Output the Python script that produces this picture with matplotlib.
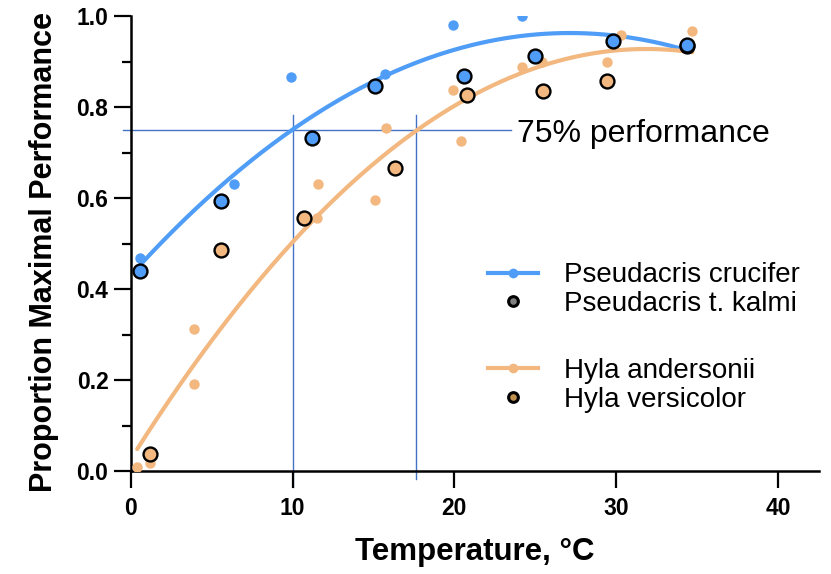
import matplotlib.pyplot as plt
import numpy as np
from matplotlib.lines import Line2D

plt.rcParams['font.family'] = ['Liberation Sans', 'DejaVu Sans']

# Pseudacris crucifer: small dots
crucifer_temp = [0.6, 6.4, 9.9, 15.7, 19.9, 24.2, 29.9, 34.5]
crucifer_perf = [0.469, 0.632, 0.866, 0.873, 0.982, 1.0, 0.945, 0.935]
# Pseudacris t. kalmi: outlined dots
kalmi_temp = [0.6, 5.6, 11.2, 15.1, 20.6, 25.0, 29.8, 34.4]
kalmi_perf = [0.440, 0.595, 0.733, 0.848, 0.870, 0.914, 0.947, 0.938]
# Hyla andersonii: small dots
andersonii_temp = [0.4, 1.2, 3.9, 3.9, 11.5, 11.6, 15.1, 15.8,
                   19.9, 20.4, 24.2, 25.4, 29.4, 30.3, 34.5, 34.7]
andersonii_perf = [0.009, 0.018, 0.313, 0.192, 0.557, 0.632, 0.596, 0.754,
                   0.838, 0.725, 0.888, 0.900, 0.900, 0.960, 0.935, 0.969]
# Hyla versicolor: outlined dots
versicolor_temp = [1.2, 5.6, 10.7, 16.3, 20.8, 25.5, 29.4, 34.4]
versicolor_perf = [0.037, 0.487, 0.557, 0.667, 0.828, 0.835, 0.859, 0.935]

threshold = 0.75
threshold_temps = [10.0, 17.6]

blue = '#4F9DF6'
orange = '#F2B880'
ref_blue = '#4472C4'

fig = plt.figure(figsize=(8.31, 5.74), dpi=100)
ax = fig.add_axes([0.1573, 0.1794, 0.985 - 0.1573, 0.9713 - 0.1794])


def quad_fit(x, y):
    # second order polynomial through both species of a genus
    coef = np.polyfit(x, y, 2)
    xs = np.linspace(min(x), max(x), 200)
    return xs, np.polyval(coef, xs)


xs, ys = quad_fit(crucifer_temp + kalmi_temp, crucifer_perf + kalmi_perf)
ax.plot(xs, ys, color=blue, lw=3, zorder=2, solid_capstyle='round')
xs, ys = quad_fit(andersonii_temp + versicolor_temp, andersonii_perf + versicolor_perf)
ax.plot(xs, ys, color=orange, lw=3, zorder=2, solid_capstyle='round')

ax.plot(andersonii_temp, andersonii_perf, 'o', color=orange, ms=7.5, mew=0, zorder=3)
ax.plot(crucifer_temp, crucifer_perf, 'o', color=blue, ms=7.5, mew=0, zorder=3)
ax.plot(versicolor_temp, versicolor_perf, 'o', mfc=orange, mec='black', ms=10, mew=1.7, zorder=4)
ax.plot(kalmi_temp, kalmi_perf, 'o', mfc=blue, mec='black', ms=10, mew=1.7, zorder=5)

# 75% reference lines
ax.plot([-0.5, 23.5], [threshold, threshold], color=ref_blue, lw=1, clip_on=False, zorder=1)
ax.plot([threshold_temps[0]] * 2, [-0.035, 0.784], color=ref_blue, lw=1, clip_on=False, zorder=1)
ax.plot([threshold_temps[1]] * 2, [-0.018, 0.784], color=ref_blue, lw=1, clip_on=False, zorder=1)
ax.text(23.85, threshold, '75% performance', fontsize=23, va='center_baseline', ha='left')

ax.set_xlim(0, 42.5)
ax.set_ylim(0, 1.0)
ax.set_xticks([0, 10, 20, 30, 40])
ax.set_yticks([0.0, 0.2, 0.4, 0.6, 0.8, 1.0])
ax.set_yticks(np.arange(0.1, 1.0, 0.2), minor=True)
ax.set_yticklabels(['0.0', '0.2', '0.4', '0.6', '0.8', '1.0'])

for s in ['top', 'right']:
    ax.spines[s].set_visible(False)
for s in ['left', 'bottom']:
    ax.spines[s].set_linewidth(1.8)
ax.tick_params(axis='both', which='major', width=1.6, labelsize=16.5)
ax.tick_params(axis='y', which='major', length=12, pad=4)
ax.tick_params(axis='y', which='minor', length=6.5, width=1.6)
ax.tick_params(axis='x', which='major', length=12, pad=7)
for lab in ax.get_xticklabels() + ax.get_yticklabels():
    lab.set_fontweight('bold')

ax.set_xlabel('Temperature, °C', fontsize=22.5, fontweight='bold', labelpad=12)
ax.set_ylabel('Proportion Maximal Performance', fontsize=22, fontweight='bold')
ax.yaxis.set_label_coords(-0.104, 0.482)

leg_kw = dict(frameon=False, fontsize=20, handlelength=1.8, handletextpad=0.95,
              labelspacing=0.1, borderpad=0, borderaxespad=0, loc='upper left',
              bbox_transform=fig.transFigure)
pseudacris = [
    Line2D([], [], color=blue, lw=3, marker='o', ms=7, mew=0),
    Line2D([], [], ls='none', marker='o', mfc='#808080', mec='black', ms=7, mew=2.2),
]
hyla = [
    Line2D([], [], color=orange, lw=3, marker='o', ms=7, mew=0),
    Line2D([], [], ls='none', marker='o', mfc='#C09050', mec='black', ms=7, mew=2.2),
]
leg1 = ax.legend(pseudacris, ['Pseudacris crucifer', 'Pseudacris t. kalmi'],
                 bbox_to_anchor=(0.587, 0.543), **leg_kw)
ax.add_artist(leg1)
ax.legend(hyla, ['Hyla andersonii', 'Hyla versicolor'],
          bbox_to_anchor=(0.587, 0.376), **leg_kw)

fig.savefig('out.png', dpi=100)
